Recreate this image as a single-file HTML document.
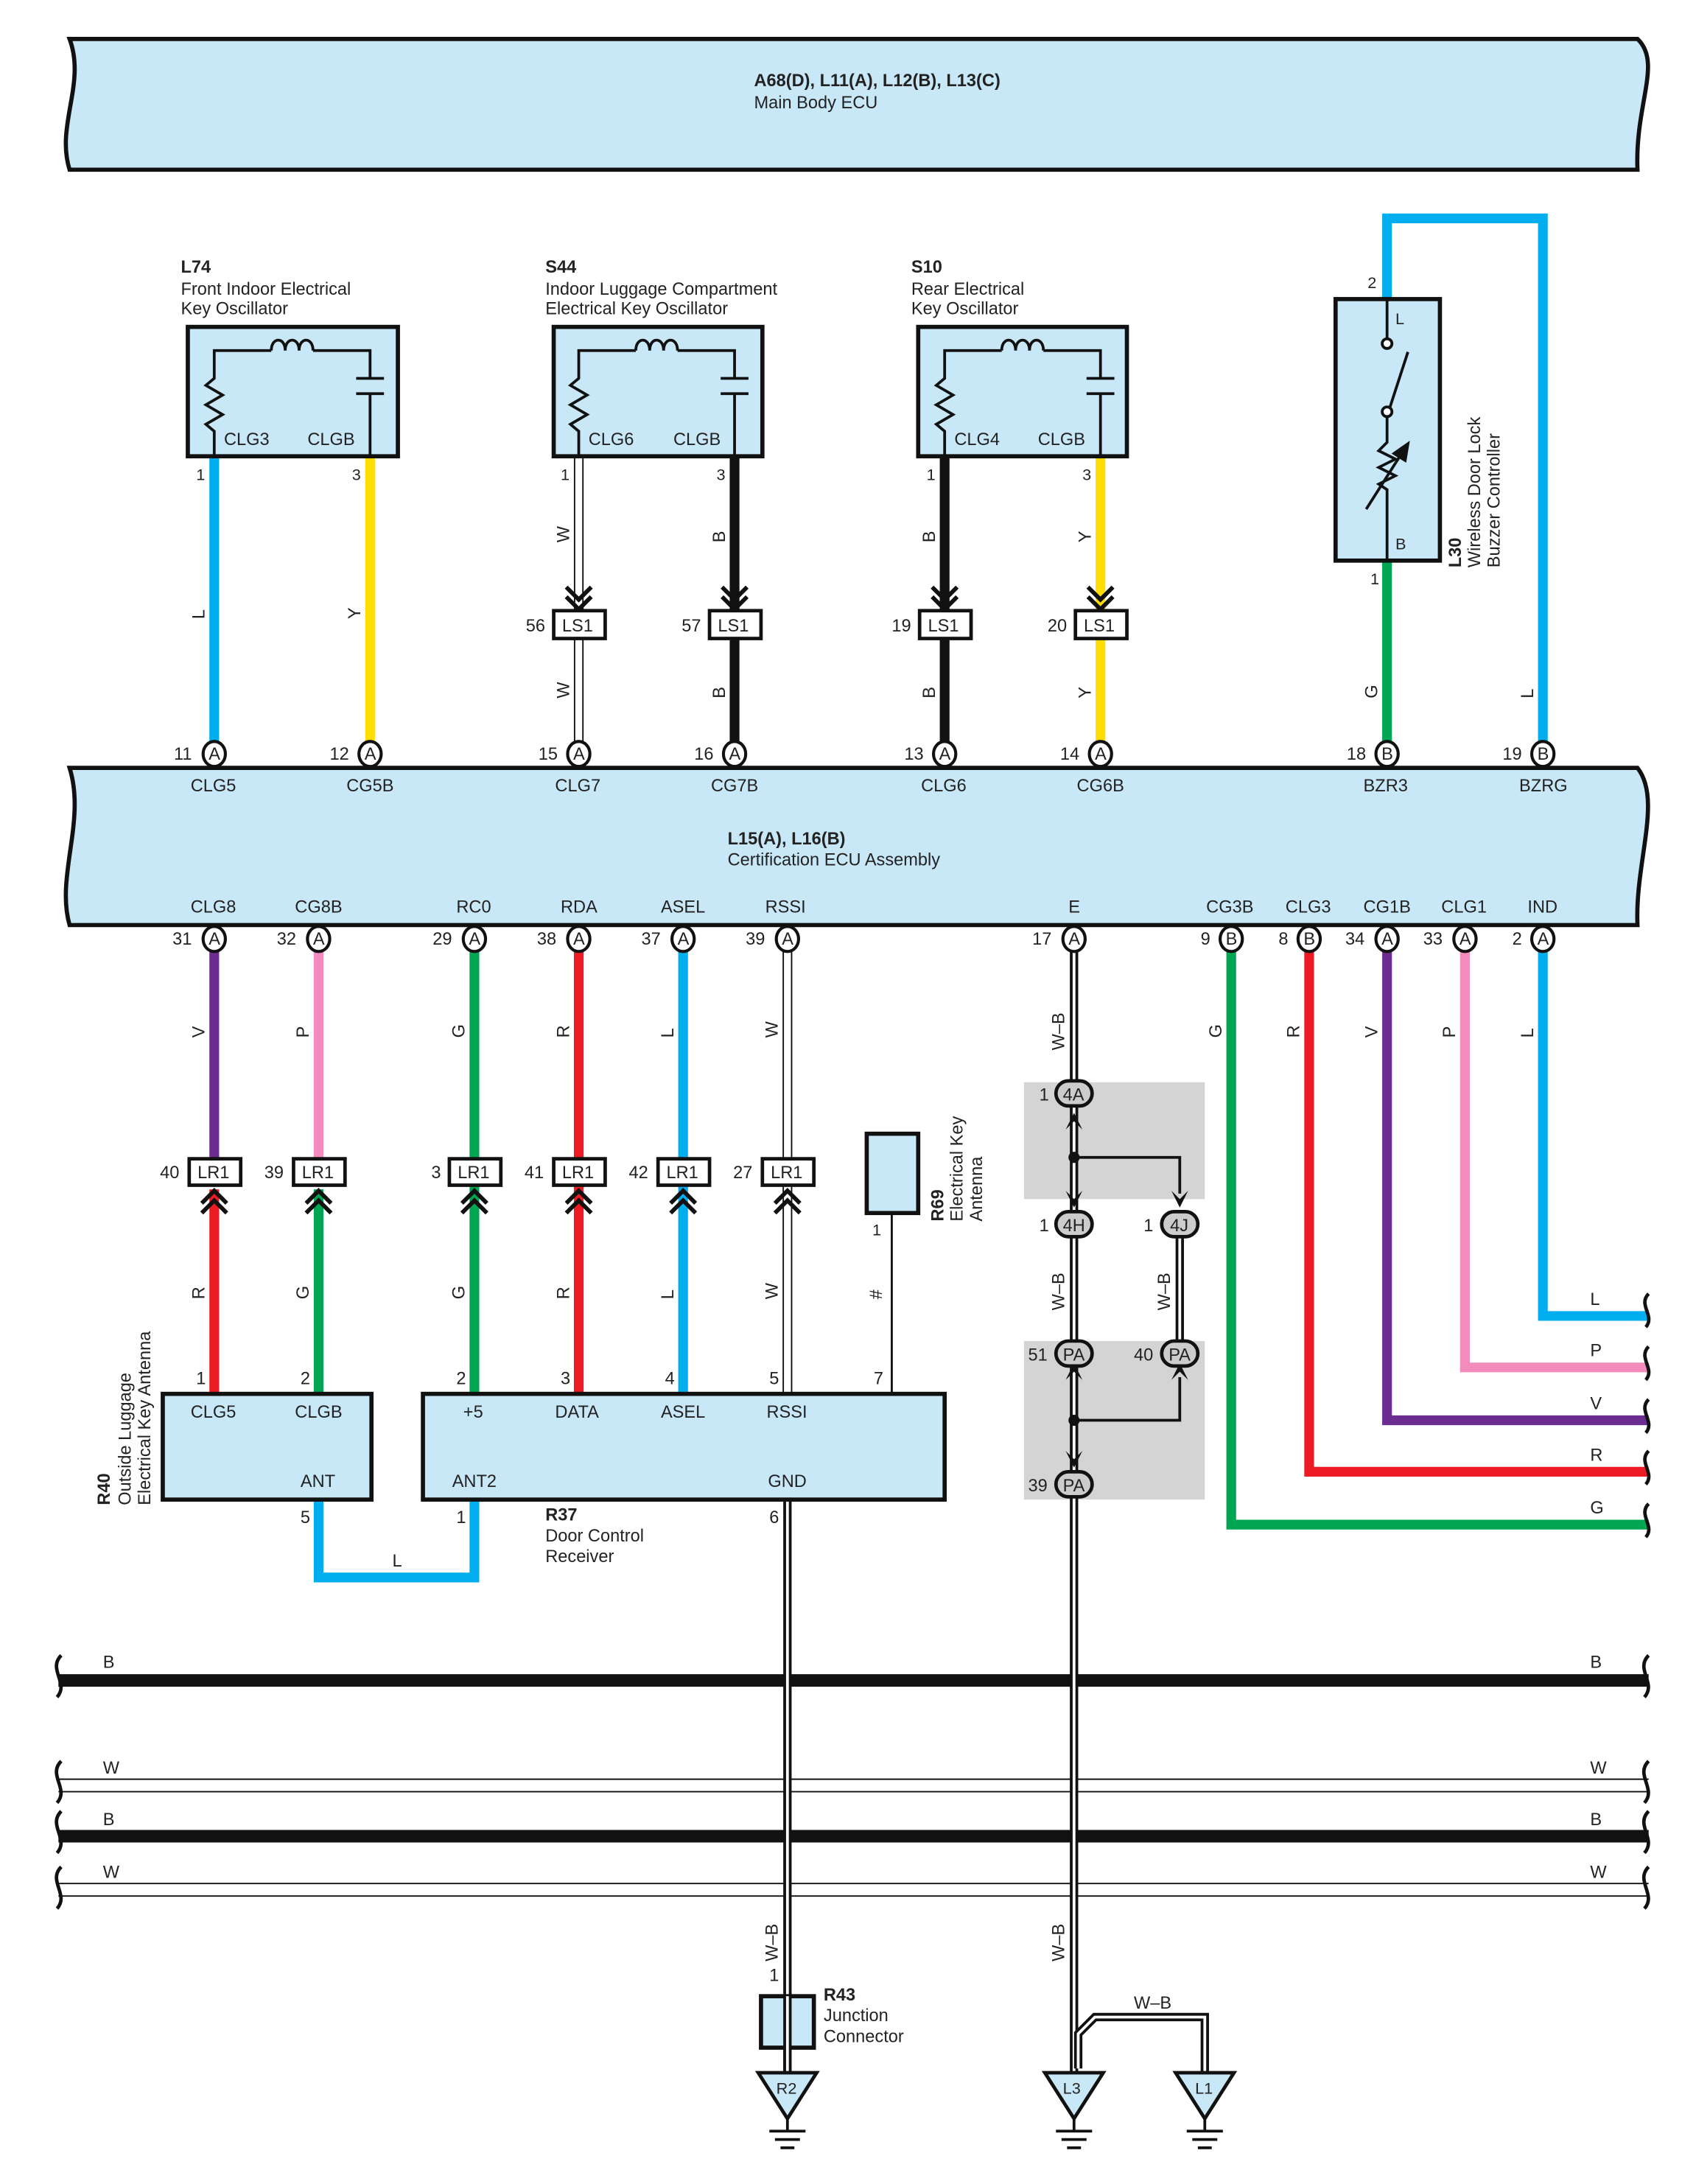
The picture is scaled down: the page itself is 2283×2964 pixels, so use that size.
<!DOCTYPE html>
<html><head><meta charset="utf-8"><style>
html,body{margin:0;padding:0;background:#fff}
svg{display:block}
text{font-family:"Liberation Sans",sans-serif;font-size:12.5px;fill:#222}
.b{font-weight:bold}
.s{font-size:11.5px}
</style></head><body>
<svg width="2283" height="2964" viewBox="0 0 1209 1570" preserveAspectRatio="none" xmlns="http://www.w3.org/2000/svg">
<defs>
<g id="pA"><ellipse cx="0" cy="0" rx="8" ry="9" fill="#fff" stroke="#111" stroke-width="2.2"/></g>
<g id="chevD"><path d="M-9,-16 L0,-7 L9,-16 M-9,-9 L0,0 L9,-9" fill="none" stroke="#111" stroke-width="3"/></g>
<g id="chevU"><path d="M-9,16 L0,7 L9,16 M-9,9 L0,0 L9,9" fill="none" stroke="#111" stroke-width="3"/></g>
<g id="gnd"><path d="M-21,0 L21,0 L0,33 Z" fill="#c8e8f8" stroke="#111" stroke-width="2.5"/><path d="M0,33 V42 M-13,42 H13 M-9,48 H9 M-5,54 H5" stroke="#111" stroke-width="2"/></g>
</defs>

<!-- Top ECU -->
<path d="M50,28 H1177 C1195,45 1175,75 1177,122 H50 C40,90 62,60 50,28 Z" fill="#c8e8f8" stroke="#111" stroke-width="3"/>
<text x="542" y="62" class="b">A68(D), L11(A), L12(B), L13(C)</text>
<text x="542" y="78">Main Body ECU</text>

<!-- Middle ECU -->
<path d="M50,552 H1177 C1195,575 1175,620 1177,665 H50 C40,630 62,590 50,552 Z" fill="#c8e8f8" stroke="#111" stroke-width="3"/>
<text x="523" y="607" class="b">L15(A), L16(B)</text>
<text x="523" y="622">Certification ECU Assembly</text>

<!-- top wires -->
<g stroke-width="7" fill="none">
<line x1="154" y1="328" x2="154" y2="542" stroke="#00aeef"/>
<line x1="266" y1="328" x2="266" y2="542" stroke="#ffdd00"/>
<line x1="528" y1="328" x2="528" y2="542" stroke="#111"/>
<line x1="679" y1="328" x2="679" y2="542" stroke="#111"/>
<line x1="791" y1="328" x2="791" y2="542" stroke="#ffdd00"/>
<line x1="997" y1="403" x2="997" y2="542" stroke="#00a651"/>
<path d="M997,215 V157 H1109 V542" stroke="#00aeef"/>
</g>
<g stroke="#111" stroke-width="1" fill="none"><line x1="413" y1="328" x2="413" y2="542"/><line x1="419" y1="328" x2="419" y2="542"/></g>

<!-- oscillator boxes -->
<rect x="135" y="235" width="151" height="93" fill="#c8e8f8" stroke="#111" stroke-width="3"/>
<rect x="398" y="235" width="150" height="93" fill="#c8e8f8" stroke="#111" stroke-width="3"/>
<rect x="660" y="235" width="150" height="93" fill="#c8e8f8" stroke="#111" stroke-width="3"/>
<g fill="none" stroke="#111" stroke-width="2">
<path d="M154,328 V310 L148,305 L160,298 L148,291 L160,284 L148,277 L154,272 V252 H195 M225,252 H266 V272 M256,272 H276 M256,283 H276 M266,283 V328"/>
<path d="M195,252 c0,-10 10,-10 10,0 c0,-10 10,-10 10,0 c0,-10 10,-10 10,0"/>
<path d="M416,328 V310 L410,305 L422,298 L410,291 L422,284 L410,277 L416,272 V252 H457 M487,252 H528 V272 M518,272 H538 M518,283 H538 M528,283 V328"/>
<path d="M457,252 c0,-10 10,-10 10,0 c0,-10 10,-10 10,0 c0,-10 10,-10 10,0"/>
<path d="M679,328 V310 L673,305 L685,298 L673,291 L685,284 L673,277 L679,272 V252 H720 M750,252 H791 V272 M781,272 H801 M781,283 H801 M791,283 V328"/>
<path d="M720,252 c0,-10 10,-10 10,0 c0,-10 10,-10 10,0 c0,-10 10,-10 10,0"/>
</g>
<text x="161" y="320">CLG3</text><text x="221" y="320">CLGB</text>
<text x="423" y="320">CLG6</text><text x="484" y="320">CLGB</text>
<text x="686" y="320">CLG4</text><text x="746" y="320">CLGB</text>
<text x="130" y="196" class="b">L74</text><text x="130" y="212">Front Indoor Electrical</text><text x="130" y="226">Key Oscillator</text>
<text x="392" y="196" class="b">S44</text><text x="392" y="212">Indoor Luggage Compartment</text><text x="392" y="226">Electrical Key Oscillator</text>
<text x="655" y="196" class="b">S10</text><text x="655" y="212">Rear Electrical</text><text x="655" y="226">Key Oscillator</text>
<text x="141" y="345" class="s">1</text><text x="253" y="345" class="s">3</text>
<text x="403" y="345" class="s">1</text><text x="515" y="345" class="s">3</text>
<text x="666" y="345" class="s">1</text><text x="778" y="345" class="s">3</text>

<!-- LS1 -->
<use href="#chevD" x="416" y="438"/><use href="#chevD" x="528" y="438"/><use href="#chevD" x="679" y="438"/><use href="#chevD" x="791" y="438"/>
<g fill="#fff" stroke="#111" stroke-width="2.5">
<rect x="398" y="439" width="37" height="20"/><rect x="510" y="439" width="37" height="20"/><rect x="661" y="439" width="37" height="20"/><rect x="773" y="439" width="37" height="20"/>
</g>
<text x="404" y="454">LS1</text><text x="516" y="454">LS1</text><text x="667" y="454">LS1</text><text x="779" y="454">LS1</text>
<text x="378" y="454">56</text><text x="490" y="454">57</text><text x="641" y="454">19</text><text x="753" y="454">20</text>

<g class="s">
<text transform="translate(147,445) rotate(-90)">L</text>
<text transform="translate(259,445) rotate(-90)">Y</text>
<text transform="translate(409,390) rotate(-90)">W</text>
<text transform="translate(409,502) rotate(-90)">W</text>
<text transform="translate(521,390) rotate(-90)">B</text>
<text transform="translate(521,502) rotate(-90)">B</text>
<text transform="translate(672,390) rotate(-90)">B</text>
<text transform="translate(672,502) rotate(-90)">B</text>
<text transform="translate(784,390) rotate(-90)">Y</text>
<text transform="translate(784,502) rotate(-90)">Y</text>
<text transform="translate(990,502) rotate(-90)">G</text>
<text transform="translate(1102,502) rotate(-90)">L</text>
</g>

<!-- L30 -->
<rect x="960" y="215" width="75" height="188" fill="#c8e8f8" stroke="#111" stroke-width="3"/>
<g fill="none" stroke="#111" stroke-width="2">
<path d="M997,215 V243"/><circle cx="997" cy="247" r="3.5" fill="#fff"/>
<path d="M999,293 L1012,253"/><circle cx="997" cy="296" r="3.5" fill="#fff"/>
<path d="M997,300 V318 L991,324 L1003,330 L991,336 L1003,342 L991,348 L997,352 V403"/>
<path d="M982,366 L1010,322"/><path d="M1002,326 L1012,319 L1010,331 Z" fill="#111"/>
</g>
<text x="1003" y="233" class="s">L</text><text x="1003" y="395" class="s">B</text>
<text x="983" y="207" class="s">2</text><text x="985" y="420" class="s">1</text>
<text transform="translate(1050,408) rotate(-90)" class="b">L30</text>
<text transform="translate(1064,408) rotate(-90)">Wireless Door Lock</text>
<text transform="translate(1078,408) rotate(-90)">Buzzer Controller</text>

<!-- top pins -->
<use href="#pA" x="154" y="542"/><use href="#pA" x="266" y="542"/><use href="#pA" x="416" y="542"/><use href="#pA" x="528" y="542"/>
<use href="#pA" x="679" y="542"/><use href="#pA" x="791" y="542"/><use href="#pA" x="997" y="542"/><use href="#pA" x="1109" y="542"/>
<g class="s">
<text x="150" y="546">A</text><text x="262" y="546">A</text><text x="412" y="546">A</text><text x="524" y="546">A</text><text x="675" y="546">A</text><text x="787" y="546">A</text><text x="993" y="546">B</text><text x="1105" y="546">B</text>
<text x="125" y="546">11</text><text x="237" y="546">12</text><text x="387" y="546">15</text><text x="499" y="546">16</text><text x="650" y="546">13</text><text x="762" y="546">14</text><text x="968" y="546">18</text><text x="1080" y="546">19</text>
</g>
<text x="137" y="569">CLG5</text><text x="249" y="569">CG5B</text><text x="399" y="569">CLG7</text><text x="511" y="569">CG7B</text>
<text x="662" y="569">CLG6</text><text x="774" y="569">CG6B</text><text x="980" y="569">BZR3</text><text x="1092" y="569">BZRG</text>
<text x="137" y="656">CLG8</text><text x="212" y="656">CG8B</text><text x="328" y="656">RC0</text><text x="403" y="656">RDA</text><text x="475" y="656">ASEL</text><text x="550" y="656">RSSI</text>
<text x="768" y="656">E</text><text x="867" y="656">CG3B</text><text x="924" y="656">CLG3</text><text x="980" y="656">CG1B</text><text x="1036" y="656">CLG1</text><text x="1098" y="656">IND</text>

<!-- bottom wires -->
<g stroke-width="7" fill="none">
<line x1="154" y1="675" x2="154" y2="840" stroke="#6c2d91"/>
<line x1="154" y1="855" x2="154" y2="1002" stroke="#ed1c24"/>
<line x1="229" y1="675" x2="229" y2="840" stroke="#f38bbd"/>
<line x1="229" y1="855" x2="229" y2="1002" stroke="#00a651"/>
<line x1="341" y1="675" x2="341" y2="1002" stroke="#00a651"/>
<line x1="416" y1="675" x2="416" y2="1002" stroke="#ed1c24"/>
<line x1="491" y1="675" x2="491" y2="1002" stroke="#00aeef"/>
<path d="M229,1078 V1134 H341 V1078" stroke="#00aeef"/>
<path d="M1109,675 V946 H1185" stroke="#00aeef"/>
<path d="M1053,675 V983 H1185" stroke="#f38bbd"/>
<path d="M997,675 V1021 H1185" stroke="#6c2d91"/>
<path d="M941,675 V1058 H1185" stroke="#ed1c24"/>
<path d="M885,675 V1096 H1185" stroke="#00a651"/>
</g>
<g stroke="#111" stroke-width="1" fill="none"><line x1="563" y1="675" x2="563" y2="1002"/><line x1="569" y1="675" x2="569" y2="1002"/></g>
<line x1="641" y1="872" x2="641" y2="1002" stroke="#111" stroke-width="1.5"/>

<!-- gray boxes -->
<rect x="736" y="778" width="130" height="84" fill="#d4d4d4"/>
<rect x="736" y="964" width="130" height="114" fill="#d4d4d4"/>

<!-- Ground buses -->
<g stroke="#111" fill="none">
<line x1="42" y1="1208" x2="1185" y2="1208" stroke-width="9"/>
<line x1="42" y1="1320" x2="1185" y2="1320" stroke-width="9"/>
<line x1="42" y1="1279" x2="1185" y2="1279" stroke-width="1"/><line x1="42" y1="1288" x2="1185" y2="1288" stroke-width="1"/>
<line x1="42" y1="1354" x2="1185" y2="1354" stroke-width="1"/><line x1="42" y1="1363" x2="1185" y2="1363" stroke-width="1"/>
<g stroke-width="2.5">
<path d="M44,1190 c-10,10 6,20 -3,30 M1185,1190 c-10,10 6,20 -3,30"/>
<path d="M44,1266 c-10,10 6,20 -3,30 M1185,1266 c-10,10 6,20 -3,30"/>
<path d="M44,1302 c-10,10 6,20 -3,30 M1185,1302 c-10,10 6,20 -3,30"/>
<path d="M44,1342 c-10,10 6,20 -3,30 M1185,1342 c-10,10 6,20 -3,30"/>
<path d="M1185,930 c-8,8 5,16 -2,24 M1185,968 c-8,8 5,16 -2,24 M1185,1006 c-8,8 5,16 -2,24 M1185,1043 c-8,8 5,16 -2,24 M1185,1081 c-8,8 5,16 -2,24"/>
</g>
</g>
<text x="74" y="1199">B</text><text x="1143" y="1199">B</text>
<text x="74" y="1275">W</text><text x="1143" y="1275">W</text>
<text x="74" y="1312">B</text><text x="1143" y="1312">B</text>
<text x="74" y="1350">W</text><text x="1143" y="1350">W</text>

<!-- E / W-B lines -->
<g fill="none">
<path d="M772,675 V1490" stroke="#111" stroke-width="6"/><path d="M772,675 V1490" stroke="#fff" stroke-width="2"/>
<path d="M566,1078 V1490" stroke="#111" stroke-width="6"/><path d="M566,1078 V1490" stroke="#fff" stroke-width="2"/>
<path d="M848,880 V975" stroke="#111" stroke-width="6"/><path d="M848,880 V975" stroke="#fff" stroke-width="2"/>
<path d="M775,1487 V1462 L787,1450 H866 V1490" stroke="#111" stroke-width="6"/><path d="M775,1487 V1462 L787,1450 H866 V1490" stroke="#fff" stroke-width="2"/>
<path d="M772,832 H848 V858 M772,1021 H848 V990" stroke="#111" stroke-width="2"/>
</g>
<circle cx="772" cy="832" r="4" fill="#111"/><circle cx="772" cy="1021" r="4" fill="#111"/>
<path d="M766,812 L772,800 L778,812 L772,806 Z M766,992 L772,980 L778,992 L772,986 Z M842,992 L848,980 L854,992 L848,986 Z" fill="#111"/>
<path d="M766,856 L772,868 L778,856 L772,862 Z M842,856 L848,868 L854,856 L848,862 Z M766,1043 L772,1055 L778,1043 L772,1049 Z" fill="#111"/>
<g fill="#ccc" stroke="#111" stroke-width="2.5">
<rect x="759" y="777" width="26" height="18" rx="9"/><rect x="759" y="871" width="26" height="18" rx="9"/><rect x="835" y="871" width="26" height="18" rx="9"/>
<rect x="759" y="964" width="26" height="18" rx="9"/><rect x="835" y="964" width="26" height="18" rx="9"/><rect x="759" y="1058" width="26" height="18" rx="9"/>
</g>
<g class="s">
<text x="764" y="791">4A</text><text x="764" y="885">4H</text><text x="841" y="885">4J</text>
<text x="764" y="978">PA</text><text x="840" y="978">PA</text><text x="764" y="1072">PA</text>
<text x="747" y="791">1</text><text x="747" y="885">1</text><text x="822" y="885">1</text>
<text x="739" y="978">51</text><text x="815" y="978">40</text><text x="739" y="1072">39</text>
<text transform="translate(765,755) rotate(-90)">W–B</text>
<text transform="translate(765,942) rotate(-90)">W–B</text>
<text transform="translate(841,942) rotate(-90)">W–B</text>
<text transform="translate(765,1410) rotate(-90)">W–B</text>
<text transform="translate(559,1410) rotate(-90)">W–B</text>
<text x="815" y="1444">W–B</text>
</g>

<!-- bottom pins -->
<use href="#pA" x="154" y="675"/><use href="#pA" x="229" y="675"/><use href="#pA" x="341" y="675"/><use href="#pA" x="416" y="675"/><use href="#pA" x="491" y="675"/><use href="#pA" x="566" y="675"/>
<use href="#pA" x="772" y="675"/><use href="#pA" x="885" y="675"/><use href="#pA" x="941" y="675"/><use href="#pA" x="997" y="675"/><use href="#pA" x="1053" y="675"/><use href="#pA" x="1109" y="675"/>
<g class="s">
<text x="150" y="679">A</text><text x="225" y="679">A</text><text x="337" y="679">A</text><text x="412" y="679">A</text><text x="487" y="679">A</text><text x="562" y="679">A</text>
<text x="768" y="679">A</text><text x="881" y="679">B</text><text x="937" y="679">B</text><text x="993" y="679">A</text><text x="1049" y="679">A</text><text x="1105" y="679">A</text>
<text x="124" y="679">31</text><text x="199" y="679">32</text><text x="311" y="679">29</text><text x="386" y="679">38</text><text x="461" y="679">37</text><text x="536" y="679">39</text>
<text x="742" y="679">17</text><text x="863" y="679">9</text><text x="919" y="679">8</text><text x="967" y="679">34</text><text x="1023" y="679">33</text><text x="1087" y="679">2</text>
<text transform="translate(147,746) rotate(-90)">V</text><text transform="translate(222,746) rotate(-90)">P</text>
<text transform="translate(334,746) rotate(-90)">G</text><text transform="translate(409,746) rotate(-90)">R</text>
<text transform="translate(484,746) rotate(-90)">L</text><text transform="translate(559,746) rotate(-90)">W</text>
<text transform="translate(878,746) rotate(-90)">G</text><text transform="translate(934,746) rotate(-90)">R</text>
<text transform="translate(990,746) rotate(-90)">V</text><text transform="translate(1046,746) rotate(-90)">P</text>
<text transform="translate(1102,746) rotate(-90)">L</text>
<text transform="translate(147,934) rotate(-90)">R</text><text transform="translate(222,934) rotate(-90)">G</text>
<text transform="translate(334,934) rotate(-90)">G</text><text transform="translate(409,934) rotate(-90)">R</text>
<text transform="translate(484,934) rotate(-90)">L</text><text transform="translate(559,934) rotate(-90)">W</text>
<text transform="translate(634,934) rotate(-90)">#</text>
<text x="1143" y="938">L</text><text x="1143" y="975">P</text><text x="1143" y="1013">V</text><text x="1143" y="1050">R</text><text x="1143" y="1088">G</text>
<text x="282" y="1126">L</text>
</g>

<!-- LR1 -->
<use href="#chevU" x="154" y="856"/><use href="#chevU" x="229" y="856"/><use href="#chevU" x="341" y="856"/><use href="#chevU" x="416" y="856"/><use href="#chevU" x="491" y="856"/><use href="#chevU" x="566" y="856"/>
<g fill="#fff" stroke="#111" stroke-width="2.5">
<rect x="136" y="833" width="37" height="19"/><rect x="211" y="833" width="37" height="19"/><rect x="323" y="833" width="37" height="19"/><rect x="398" y="833" width="37" height="19"/><rect x="473" y="833" width="37" height="19"/><rect x="548" y="833" width="37" height="19"/>
</g>
<g class="s">
<text x="142" y="847">LR1</text><text x="217" y="847">LR1</text><text x="329" y="847">LR1</text><text x="404" y="847">LR1</text><text x="479" y="847">LR1</text><text x="554" y="847">LR1</text>
<text x="115" y="847">40</text><text x="190" y="847">39</text><text x="310" y="847">3</text><text x="377" y="847">41</text><text x="452" y="847">42</text><text x="527" y="847">27</text>
</g>

<!-- R69 -->
<rect x="623" y="815" width="37" height="57" fill="#c8e8f8" stroke="#111" stroke-width="3"/>
<text x="627" y="888" class="s">1</text>
<text transform="translate(678,878) rotate(-90)" class="b">R69</text>
<text transform="translate(692,878) rotate(-90)">Electrical Key</text>
<text transform="translate(706,878) rotate(-90)">Antenna</text>

<!-- R40 & R37 -->
<rect x="117" y="1002" width="150" height="76" fill="#c8e8f8" stroke="#111" stroke-width="3"/>
<rect x="304" y="1002" width="375" height="76" fill="#c8e8f8" stroke="#111" stroke-width="3"/>
<text x="137" y="1019">CLG5</text><text x="212" y="1019">CLGB</text><text x="216" y="1069">ANT</text>
<text x="333" y="1019">+5</text><text x="399" y="1019">DATA</text><text x="475" y="1019">ASEL</text><text x="551" y="1019">RSSI</text>
<text x="325" y="1069">ANT2</text><text x="552" y="1069">GND</text>
<g class="s">
<text x="141" y="995">1</text><text x="216" y="995">2</text><text x="328" y="995">2</text><text x="403" y="995">3</text><text x="478" y="995">4</text><text x="553" y="995">5</text><text x="628" y="995">7</text>
<text x="216" y="1095">5</text><text x="328" y="1095">1</text><text x="553" y="1095">6</text><text x="553" y="1424">1</text>
</g>
<text transform="translate(79,1082) rotate(-90)" class="b">R40</text>
<text transform="translate(94,1082) rotate(-90)">Outside Luggage</text>
<text transform="translate(108,1082) rotate(-90)">Electrical Key Antenna</text>
<text x="392" y="1093" class="b">R37</text><text x="392" y="1108">Door Control</text><text x="392" y="1123">Receiver</text>

<!-- R43 -->
<rect x="547" y="1435" width="38" height="37" fill="#c8e8f8" stroke="#111" stroke-width="3"/>
<path d="M566,1435 V1490" stroke="#111" stroke-width="6"/><path d="M566,1435 V1490" stroke="#fff" stroke-width="2"/>
<text x="592" y="1438" class="b">R43</text><text x="592" y="1453">Junction</text><text x="592" y="1468">Connector</text>

<!-- grounds -->
<use href="#gnd" x="566" y="1490"/><use href="#gnd" x="772" y="1490"/><use href="#gnd" x="866" y="1490"/>
<text x="558" y="1505" class="s">R2</text><text x="764" y="1505" class="s">L3</text><text x="859" y="1505" class="s">L1</text>
</svg>
</body></html>
